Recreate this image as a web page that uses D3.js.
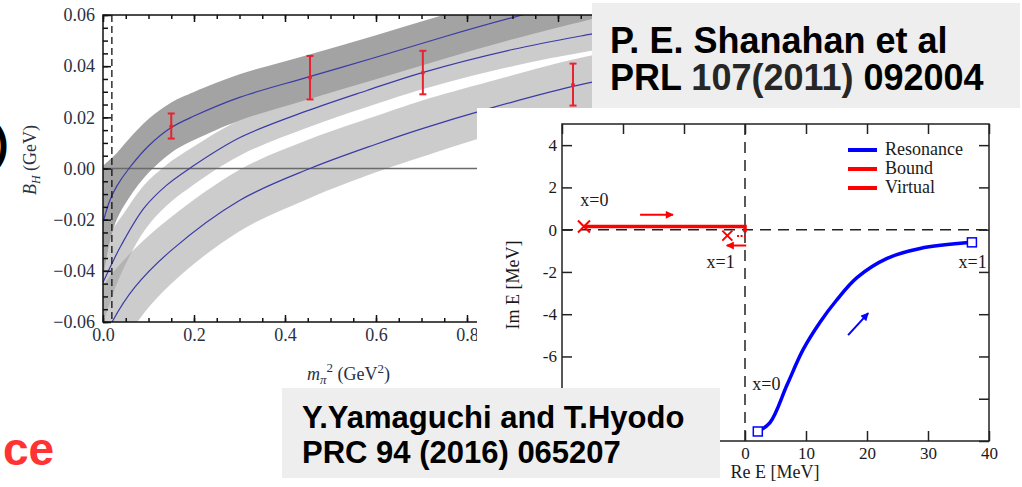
<!DOCTYPE html>
<html>
<head>
<meta charset="utf-8">
<script src="https://cdn.jsdelivr.net/npm/d3@7"></script>
<style>
  body { margin: 0; background: #fff; }
  svg { display: block; }
</style>
</head>
<body>
<script>
// ---- left chart: B_H vs m_pi^2 (three bands + lattice points)
const band1X   = [0, 0.015, 0.03, 0.057, 0.1, 0.15, 0.2, 0.3, 0.45, 0.6, 0.75, 0.9, 1.1, 1.25];
const band1Mid = [-0.021, -0.0125, -0.007, 0, 0.0088, 0.016, 0.0205, 0.0278, 0.0357, 0.0435, 0.0515, 0.059, 0.068, 0.074];
const band1Err = [0.022, 0.016, 0.013, 0.0115, 0.0105, 0.0098, 0.0094, 0.009, 0.0087, 0.0086, 0.0086, 0.0085, 0.0085, 0.0085];

const band2X   = [0, 0.02, 0.04, 0.09, 0.14, 0.19, 0.3, 0.45, 0.58, 0.7, 0.9, 1.075, 1.25];
const band2Mid = [-0.0445, -0.037, -0.03, -0.0155, -0.0065, 0, 0.012, 0.0226, 0.0305, 0.0374, 0.0465, 0.0526, 0.058];
const band2Err = [0.016, 0.013, 0.011, 0.009, 0.008, 0.0075, 0.007, 0.0066, 0.0065, 0.0065, 0.0065, 0.0065, 0.0065];

const band3X   = [0, 0.02, 0.07, 0.15, 0.3, 0.455, 0.6, 0.7, 0.85, 1.03, 1.25];
const band3Mid = [-0.068, -0.06, -0.0464, -0.032, -0.0125, 0, 0.0095, 0.0155, 0.0235, 0.032, 0.04];
const band3Err = [0.022, 0.019, 0.015, 0.013, 0.012, 0.0115, 0.011, 0.011, 0.0105, 0.0105, 0.0105];

const latX  = [0.15, 0.455, 0.703, 1.033];
const latB  = [0.0164, 0.0355, 0.0374, 0.0327];
const latLo = [0.0117, 0.027, 0.029, 0.0246];
const latHi = [0.0215, 0.044, 0.046, 0.041];

const leftYTicks = [-0.06, -0.04, -0.02, 0, 0.02, 0.04, 0.06];
const leftXTicks = [0, 0.2, 0.4, 0.6, 0.8, 1.0, 1.2];
const mpiPhys = 0.0195;   // dashed vertical line

// ---- right chart: pole trajectories in complex energy plane
const resRe = [2.1, 4.1, 6.9, 9.5, 12.3, 15.0, 18.4, 23.3, 28.7, 37.2];
const resIm = [-9.55, -9.13, -7.34, -5.69, -4.38, -3.34, -2.26, -1.36, -0.89, -0.6];
const boundRe = [-26.4, 0, 0];
const boundIm = [0.15, 0.15, -0.12];
const virtRe = [-1.3, 0];
const virtIm = [-0.3, -0.3];
const virtX = [-2.9, -0.28];

const rightXTicks = [-30, -20, -10, 0, 10, 20, 30, 40];
const rightYTicks = [-10, -8, -6, -4, -2, 0, 2, 4];
const legendNames = ["Resonance", "Bound", "Virtual"];
const legendColors = ["#0000ff", "#ff0000", "#ff0000"];

const serif = "'Liberation Serif', 'DejaVu Serif', serif";
const sans = "'Liberation Sans', Arial, sans-serif";

const svg = d3.select("body").append("svg")
    .attr("width", 1022)
    .attr("height", 487);

// ============ left chart ============
const xL = d3.scaleLinear([0, 1.2], [103, 649]);
const yL = d3.scaleLinear([-0.06, 0.06], [322, 15]);

svg.append("clipPath").attr("id", "clipL")
  .append("rect")
    .attr("x", xL(0)).attr("y", yL(0.06))
    .attr("width", xL(1.2) - xL(0)).attr("height", yL(-0.06) - yL(0.06));

const plotL = svg.append("g").attr("clip-path", "url(#clipL)");

function bandData(xs, mid, err) {
  return xs.map((x, i) => ({x: x, mid: mid[i], err: err[i]}));
}
const bands = [
  {d: bandData(band2X, band2Mid, band2Err), fill: "#9a9a9a", op: 0.5},
  {d: bandData(band3X, band3Mid, band3Err), fill: "#9a9a9a", op: 0.5},
  {d: bandData(band1X, band1Mid, band1Err), fill: "#a3a3a3", op: 1}
];

const area = d3.area()
    .x(d => xL(d.x))
    .y0(d => yL(d.mid - d.err))
    .y1(d => yL(d.mid + d.err))
    .curve(d3.curveCatmullRom.alpha(0.5));
const midLine = d3.line()
    .x(d => xL(d.x))
    .y(d => yL(d.mid))
    .curve(d3.curveCatmullRom.alpha(0.5));

plotL.selectAll("path.band")
  .data(bands)
  .join("path")
    .attr("class", "band")
    .attr("d", b => area(b.d))
    .attr("fill", b => b.fill)
    .attr("fill-opacity", b => b.op);

// zero line
plotL.append("line")
    .attr("x1", xL(0)).attr("x2", xL(1.2))
    .attr("y1", yL(0)).attr("y2", yL(0))
    .attr("stroke", "#6a6a6a").attr("stroke-width", 1.4);

plotL.selectAll("path.mid")
  .data(bands)
  .join("path")
    .attr("class", "mid")
    .attr("d", b => midLine(b.d))
    .attr("fill", "none")
    .attr("stroke", "#3b3ba6")
    .attr("stroke-width", 1.2);

// dashed physical point
plotL.append("line")
    .attr("x1", xL(mpiPhys)).attr("x2", xL(mpiPhys))
    .attr("y1", yL(0.06)).attr("y2", yL(-0.06))
    .attr("stroke", "#111").attr("stroke-width", 1.3)
    .attr("stroke-dasharray", "7,4");

// lattice points
const lat = latX.map((x, i) => ({x: x, b: latB[i], lo: latLo[i], hi: latHi[i]}));
const eb = plotL.append("g").attr("stroke", "#ea2230").attr("stroke-width", 2);
eb.selectAll("line.v").data(lat).join("line")
    .attr("x1", d => xL(d.x)).attr("x2", d => xL(d.x))
    .attr("y1", d => yL(d.lo)).attr("y2", d => yL(d.hi));
eb.selectAll("line.t").data(lat).join("line")
    .attr("x1", d => xL(d.x) - 3.5).attr("x2", d => xL(d.x) + 3.5)
    .attr("y1", d => yL(d.hi)).attr("y2", d => yL(d.hi));
eb.selectAll("line.b").data(lat).join("line")
    .attr("x1", d => xL(d.x) - 3.5).attr("x2", d => xL(d.x) + 3.5)
    .attr("y1", d => yL(d.lo)).attr("y2", d => yL(d.lo));
plotL.selectAll("circle.pt").data(lat).join("circle")
    .attr("cx", d => xL(d.x)).attr("cy", d => yL(d.b)).attr("r", 2)
    .attr("fill", "#ea2230");

// frame
svg.append("rect")
    .attr("x", xL(0)).attr("y", yL(0.06))
    .attr("width", xL(1.2) - xL(0)).attr("height", yL(-0.06) - yL(0.06))
    .attr("fill", "none").attr("stroke", "#111").attr("stroke-width", 1.5);

function styleAxis(g, size) {
  g.select(".domain").remove();
  g.selectAll(".tick line").attr("stroke", "#111").attr("stroke-width", 1.5);
  g.selectAll(".tick text")
      .attr("fill", "#2a2f45")
      .attr("font-family", serif)
      .attr("font-size", size);
}

const minorY = d3.range(-0.06, 0.0601, 0.005);
const minorX = d3.range(0, 1.201, 0.05);

svg.append("g").attr("transform", `translate(${xL(0)},0)`)
    .call(d3.axisLeft(yL).tickValues(minorY).tickSize(-5).tickFormat(""))
    .call(g => styleAxis(g, 18));
svg.append("g").attr("transform", `translate(${xL(0)},0)`)
    .call(d3.axisLeft(yL).tickValues(leftYTicks).tickSize(-8).tickPadding(8).tickFormat(d3.format(".2f")))
    .call(g => styleAxis(g, 18));

svg.append("g").attr("transform", `translate(0,${yL(-0.06)})`)
    .call(d3.axisBottom(xL).tickValues(minorX).tickSize(-4).tickFormat(""))
    .call(g => styleAxis(g, 18));
svg.append("g").attr("transform", `translate(0,${yL(-0.06)})`)
    .call(d3.axisBottom(xL).tickValues(leftXTicks).tickSize(-7).tickPadding(6).tickFormat(d3.format(".1f")))
    .call(g => styleAxis(g, 18));

svg.append("g").attr("transform", `translate(0,${yL(0.06)})`)
    .call(d3.axisTop(xL).tickValues(minorX).tickSize(-4).tickFormat(""))
    .call(g => styleAxis(g, 18));
svg.append("g").attr("transform", `translate(0,${yL(0.06)})`)
    .call(d3.axisTop(xL).tickValues(leftXTicks).tickSize(-7).tickFormat(""))
    .call(g => styleAxis(g, 18));

// axis titles
const xt = svg.append("text")
    .attr("x", 307).attr("y", 380)
    .attr("font-family", serif).attr("font-size", 18).attr("fill", "#2a2f45");
xt.append("tspan").attr("font-style", "italic").text("m");
xt.append("tspan").attr("font-style", "italic").attr("font-size", 13).attr("dy", 4).text("π");
xt.append("tspan").attr("font-size", 13).attr("dy", -12).text("2");
xt.append("tspan").attr("dy", 8).text(" (GeV");
xt.append("tspan").attr("font-size", 13).attr("dy", -7).text("2");
xt.append("tspan").attr("dy", 7).text(")");

const yt = svg.append("text")
    .attr("transform", "translate(36,160) rotate(-90)")
    .attr("text-anchor", "middle")
    .attr("font-family", serif).attr("font-size", 18).attr("fill", "#2a2f45");
yt.append("tspan").attr("font-style", "italic").text("B");
yt.append("tspan").attr("font-style", "italic").attr("font-size", 12).attr("dy", 4).text("H");
yt.append("tspan").attr("dy", -4).text(" (GeV)");

// ============ right chart ============
svg.append("rect")
    .attr("x", 477).attr("y", 108).attr("width", 545).attr("height", 379)
    .attr("fill", "#fff");

const xR = d3.scaleLinear([-30, 40], [562, 989]);
const yR = d3.scaleLinear([-10, 5], [441, 124]);

function styleR(g) {
  g.select(".domain").remove();
  g.selectAll(".tick line").attr("stroke", "#222").attr("stroke-width", 1.5);
  g.selectAll(".tick text")
      .attr("fill", "#1a1a1a")
      .attr("font-family", serif)
      .attr("font-size", 17);
}

// labels below -7 and left of 0 sit under the citation box
svg.append("g").attr("transform", `translate(${xR(-30)},0)`)
    .call(d3.axisLeft(yR).tickValues(rightYTicks).tickSize(-10).tickPadding(5).tickFormat(d => d > -7 ? d : ""))
    .call(styleR);
svg.append("g").attr("transform", `translate(${xR(40)},0)`)
    .call(d3.axisRight(yR).tickValues(rightYTicks).tickSize(-10).tickFormat(""))
    .call(styleR);
svg.append("g").attr("transform", `translate(0,${yR(-10)})`)
    .call(d3.axisBottom(xR).tickValues(rightXTicks).tickSize(-10).tickPadding(6).tickFormat(d => d >= 0 ? d : ""))
    .call(styleR);
svg.append("g").attr("transform", `translate(0,${yR(5)})`)
    .call(d3.axisTop(xR).tickValues(rightXTicks).tickSize(-10).tickFormat(""))
    .call(styleR);

// dashed axes through zero
svg.append("line")
    .attr("x1", xR(-30)).attr("x2", xR(40))
    .attr("y1", yR(0)).attr("y2", yR(0))
    .attr("stroke", "#222").attr("stroke-width", 1.5).attr("stroke-dasharray", "11,7");
svg.append("line")
    .attr("x1", xR(0)).attr("x2", xR(0))
    .attr("y1", yR(5)).attr("y2", yR(-10))
    .attr("stroke", "#222").attr("stroke-width", 1.5).attr("stroke-dasharray", "11,7");

svg.append("rect")
    .attr("x", xR(-30)).attr("y", yR(5))
    .attr("width", xR(40) - xR(-30)).attr("height", yR(-10) - yR(5))
    .attr("fill", "none").attr("stroke", "#222").attr("stroke-width", 1.5);

const lineR = d3.line().x(d => xR(d[0])).y(d => yR(d[1]));

// resonance trajectory
const res = resRe.map((r, i) => [r, resIm[i]]);
svg.append("path")
    .attr("d", lineR.curve(d3.curveCatmullRom)(res))
    .attr("fill", "none").attr("stroke", "#0000ff").attr("stroke-width", 3.5);
svg.selectAll("rect.sq")
  .data([res[0], res[res.length - 1]])
  .join("rect")
    .attr("x", d => xR(d[0]) - 4.5).attr("y", d => yR(d[1]) - 4.5)
    .attr("width", 9).attr("height", 9)
    .attr("fill", "#fff").attr("stroke", "#0000ff").attr("stroke-width", 1.5);

// bound + virtual
svg.append("path")
    .attr("d", lineR.curve(d3.curveLinear)(boundRe.map((r, i) => [r, boundIm[i]])))
    .attr("fill", "none").attr("stroke", "#ff0000").attr("stroke-width", 3.5);
svg.append("path")
    .attr("d", lineR(virtRe.map((r, i) => [r, virtIm[i]])))
    .attr("fill", "none").attr("stroke", "#ff0000").attr("stroke-width", 2)
    .attr("stroke-dasharray", "2,1.5");

function cross(cx, cy, s) {
  svg.append("path")
      .attr("d", `M${cx - s},${cy - s}L${cx + s},${cy + s}M${cx - s},${cy + s}L${cx + s},${cy - s}`)
      .attr("stroke", "#ff0000").attr("stroke-width", 2).attr("fill", "none");
}
cross(xR(boundRe[0]), yR(boundIm[0]), 6);
cross(xR(virtX[0]), yR(virtX[1]), 5);

// arrows
const defs = svg.append("defs");
[["arrRed", "#ff0000"], ["arrBlue", "#0000ff"]].forEach(([id, c]) => {
  defs.append("marker")
      .attr("id", id).attr("viewBox", "0 0 10 10")
      .attr("refX", 9).attr("refY", 5)
      .attr("markerWidth", 5).attr("markerHeight", 4)
      .attr("markerUnits", "strokeWidth")
      .attr("orient", "auto")
    .append("path").attr("d", "M0,0L10,5L0,10Z").attr("fill", c);
});
function arrow(a, b, c, id) {
  svg.append("line")
      .attr("x1", xR(a[0])).attr("y1", yR(a[1]))
      .attr("x2", xR(b[0])).attr("y2", yR(b[1]))
      .attr("stroke", c).attr("stroke-width", 2)
      .attr("marker-end", `url(#${id})`);
}
arrow([-17.2, 0.7], [-11.8, 0.7], "#ff0000", "arrRed");
arrow([0.2, -0.75], [-3.0, -0.75], "#ff0000", "arrRed");
arrow([16.9, -4.99], [20.2, -3.95], "#0000ff", "arrBlue");

// annotations
const ann = [
  {t: "x=0", re: -27.0, im: 1.1},
  {t: "x=1", re: -6.3, im: -1.8},
  {t: "x=0", re: 1.2, im: -7.6},
  {t: "x=1", re: 35.0, im: -1.8}
];
svg.selectAll("text.ann").data(ann).join("text")
    .attr("class", "ann")
    .attr("x", d => xR(d.re)).attr("y", d => yR(d.im))
    .attr("font-family", serif).attr("font-size", 18).attr("fill", "#1a1a1a")
    .text(d => d.t);

// legend
const lg = svg.append("g").attr("transform", "translate(848,150)");
lg.selectAll("line").data(legendNames).join("line")
    .attr("x1", 0).attr("x2", 29)
    .attr("y1", (d, i) => i * 19).attr("y2", (d, i) => i * 19)
    .attr("stroke", (d, i) => legendColors[i]).attr("stroke-width", 4);
lg.selectAll("text").data(legendNames).join("text")
    .attr("x", 37).attr("y", (d, i) => i * 19 + 5)
    .attr("font-family", serif).attr("font-size", 18).attr("fill", "#1a1a1a")
    .text(d => d);

svg.append("text")
    .attr("transform", "translate(519,285) rotate(-90)")
    .attr("text-anchor", "middle")
    .attr("font-family", serif).attr("font-size", 18).attr("fill", "#1a1a1a")
    .text("Im E [MeV]");
svg.append("text")
    .attr("x", 775).attr("y", 478)
    .attr("text-anchor", "middle")
    .attr("font-family", serif).attr("font-size", 18).attr("fill", "#1a1a1a")
    .text("Re E [MeV]");

// ============ reference boxes & slide fragments ============
svg.append("rect")
    .attr("x", 592).attr("y", 3).attr("width", 428).attr("height", 105)
    .attr("fill", "#eeeeee");
const t1 = svg.append("text")
    .attr("font-family", sans).attr("font-weight", "bold").attr("font-size", 36).attr("fill", "#000");
t1.append("tspan").attr("x", 610).attr("y", 53).text("P. E. Shanahan et al");
t1.append("tspan").attr("x", 610).attr("y", 90).text("PRL ");
t1.append("tspan").attr("fill", "#262626").text("107(2011)");
t1.append("tspan").text(" 092004");

svg.append("rect")
    .attr("x", 282).attr("y", 388).attr("width", 438).attr("height", 90)
    .attr("fill", "#eeeeee");
const t2 = svg.append("text")
    .attr("font-family", sans).attr("font-weight", "bold").attr("font-size", 31).attr("fill", "#000");
t2.append("tspan").attr("x", 302).attr("y", 428).text("Y.Yamaguchi and T.Hyodo");
t2.append("tspan").attr("x", 302).attr("y", 463).text("PRC 94 (2016) 065207");

svg.append("text")
    .attr("x", 3).attr("y", 465)
    .attr("font-family", sans).attr("font-weight", "bold").attr("font-size", 46)
    .attr("fill", "#ff3333")
    .text("ce");
svg.append("text")
    .attr("x", -6).attr("y", 158)
    .attr("font-family", sans).attr("font-weight", "bold").attr("font-size", 44)
    .attr("fill", "#000")
    .text(")");
</script>
</body>
</html>
